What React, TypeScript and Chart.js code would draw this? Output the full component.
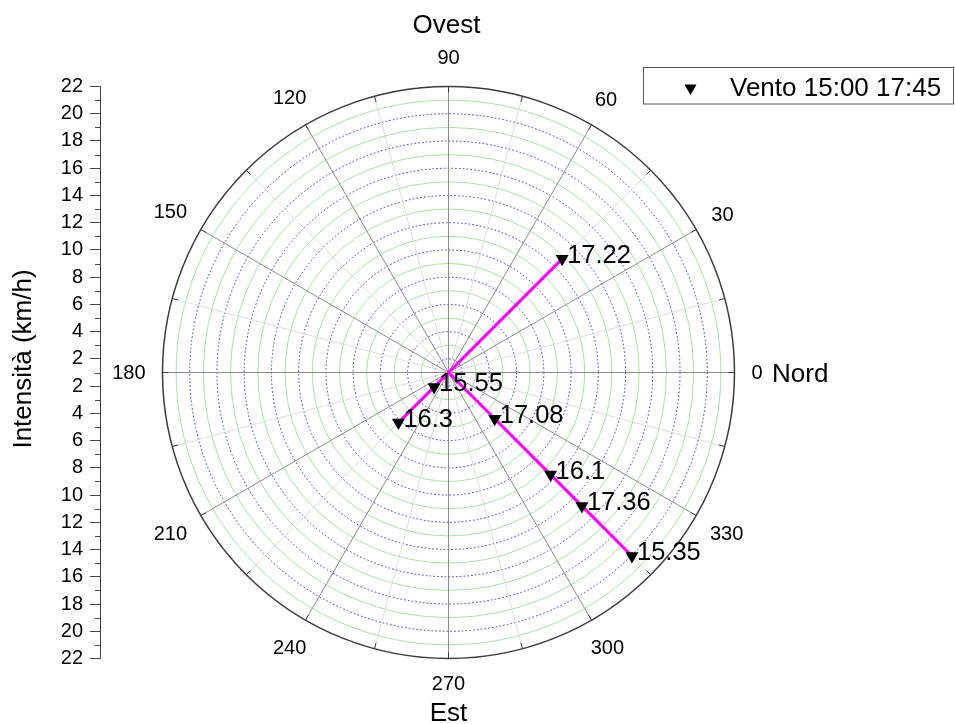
import React, { useEffect, useRef } from 'react';
import { Chart, registerables } from 'chart.js';

Chart.register(...registerables);

// ---- data ----
const pointLabels = ['17.22', '15.55', '16.3', '17.08', '16.1', '17.36', '15.35'];
const directions = [45, 225, 225, 315, 315, 315, 315]; // degrees
const speeds = [12.8, 2.5, 6.2, 5.8, 11.6, 14.85, 20.05]; // km/h
const linePaths = [[0, 2], [-1, 3, 4, 5, 6]]; // -1 = pole
const angleTicks = [0, 30, 60, 90, 120, 150, 180, 210, 240, 270, 300, 330];
const angleMinorStep = 15;
const R_MIN = 1;
const R_MAX = 22;
const seriesLabel = 'Vento 15:00 17:45';
const axisTitle = 'Intensità (km/h)';
const compass = { north: 'Nord', west: 'Ovest', east: 'Est' };

// ---- layout ----
const W = 955;
const H = 724;
const TOP = 86.5;
const BOTTOM = 658.5;
const LEFT = 100;
const CX = 448.5;
const SPAN = R_MAX - R_MIN;

const FONT = '"Liberation Sans", Arial, sans-serif';

function toXY(r: number, deg: number) {
  const d = r - R_MIN;
  const a = (deg * Math.PI) / 180;
  return { x: d * Math.cos(a), y: d * Math.sin(a) };
}

function drawDownTriangle(ctx: CanvasRenderingContext2D, x: number, y: number, r: number) {
  ctx.beginPath();
  ctx.moveTo(x, y + r);
  ctx.lineTo(x - r * Math.sin(Math.PI / 3), y - r / 2);
  ctx.lineTo(x + r * Math.sin(Math.PI / 3), y - r / 2);
  ctx.closePath();
  ctx.fill();
}

const polarPlugin = {
  id: 'polarDecor',
  afterLayout(chart: any) {
    // keep equal scaling on x and y, with the pole at CX
    const ca = chart.chartArea;
    const xs = chart.scales.x;
    const ppu = (ca.bottom - ca.top) / (2 * SPAN);
    xs.min = -(CX - ca.left) / ppu;
    xs.max = (ca.right - CX) / ppu;
    xs.configure();
  },
  beforeDatasetsDraw(chart: any) {
    const { ctx } = chart;
    const xs = chart.scales.x;
    const ys = chart.scales.y;
    const cx = xs.getPixelForValue(0);
    const cy = ys.getPixelForValue(0);
    const rad = (v: number) => cy - ys.getPixelForValue(v - R_MIN);
    const R = rad(R_MAX);
    ctx.save();
    // circles
    for (let v = R_MIN + 1; v < R_MAX; v++) {
      ctx.beginPath();
      ctx.arc(cx, cy, rad(v), 0, Math.PI * 2);
      if (v % 2 === 0) {
        ctx.strokeStyle = '#3434c8';
        ctx.setLineDash([1.6, 2.2]);
        ctx.lineWidth = 1;
      } else {
        ctx.strokeStyle = '#a8e0a8';
        ctx.setLineDash([]);
        ctx.lineWidth = 1;
      }
      ctx.stroke();
    }
    ctx.setLineDash([]);
    // radial lines
    for (let a = 0; a < 360; a += angleMinorStep) {
      const t = (a * Math.PI) / 180;
      const major = a % 30 === 0;
      ctx.beginPath();
      ctx.moveTo(cx, cy);
      ctx.lineTo(cx + R * Math.cos(t), cy - R * Math.sin(t));
      ctx.strokeStyle = major ? '#8c8c8c' : '#dcdcdc';
      ctx.lineWidth = 1;
      ctx.stroke();
    }
    // outer circle
    ctx.beginPath();
    ctx.arc(cx, cy, R, 0, Math.PI * 2);
    ctx.strokeStyle = '#3c3c3c';
    ctx.lineWidth = 1.5;
    ctx.stroke();
    // ticks on outer circle
    for (let a = 0; a < 360; a += angleMinorStep) {
      const t = (a * Math.PI) / 180;
      ctx.beginPath();
      ctx.moveTo(cx + R * Math.cos(t), cy - R * Math.sin(t));
      ctx.lineTo(cx + (R - 6) * Math.cos(t), cy - (R - 6) * Math.sin(t));
      ctx.strokeStyle = '#3c3c3c';
      ctx.lineWidth = 1;
      ctx.stroke();
    }
    ctx.restore();
  },
  afterDatasetsDraw(chart: any) {
    const { ctx } = chart;
    const meta = chart.getDatasetMeta(0);
    ctx.save();
    ctx.fillStyle = '#000';
    ctx.font = `25.5px ${FONT}`;
    ctx.textAlign = 'left';
    ctx.textBaseline = 'middle';
    meta.data.forEach((pt: any, i: number) => {
      ctx.fillText(pointLabels[i], pt.x + 5, pt.y - 3);
    });
    ctx.restore();
  },
  afterDraw(chart: any) {
    const { ctx } = chart;
    const xs = chart.scales.x;
    const ys = chart.scales.y;
    const cx = xs.getPixelForValue(0);
    const cy = ys.getPixelForValue(0);
    const R = cy - ys.getPixelForValue(R_MAX - R_MIN);
    ctx.save();
    ctx.fillStyle = '#000';
    // angle labels
    ctx.font = `20px ${FONT}`;
    ctx.textAlign = 'center';
    ctx.textBaseline = 'middle';
    angleTicks.forEach((a) => {
      const t = (a * Math.PI) / 180;
      const w = ctx.measureText(String(a)).width;
      const s = Math.sin(t);
      let d = R + 17 + Math.abs(Math.cos(t)) * w / 2 + Math.abs(s) * 7.5;
      if (s > 0.99) d += 5;
      ctx.fillText(String(a), cx + d * Math.cos(t), cy - d * s + 1);
    });
    // compass words
    ctx.font = `26px ${FONT}`;
    ctx.textAlign = 'center';
    ctx.fillText(compass.west, cx - 2, 26);
    ctx.fillText(compass.east, cx, 714);
    ctx.textAlign = 'left';
    ctx.fillText(compass.north, 772, cy + 2);
    // axis title
    ctx.save();
    ctx.translate(24, 359);
    ctx.rotate(-Math.PI / 2);
    ctx.textAlign = 'center';
    ctx.textBaseline = 'middle';
    ctx.fillText(axisTitle, 0, 0);
    ctx.restore();
    // minor ticks on left axis
    ctx.strokeStyle = '#444';
    ctx.lineWidth = 1;
    for (let v = -SPAN; v <= SPAN; v++) {
      const lab = Math.abs(v) + R_MIN;
      if (lab % 2 !== 0) {
        const y = Math.round(ys.getPixelForValue(v)) + 0.5;
        ctx.beginPath();
        ctx.moveTo(ys.right - 5, y);
        ctx.lineTo(ys.right, y);
        ctx.stroke();
      }
    }
    // legend
    ctx.strokeStyle = '#555';
    ctx.lineWidth = 1;
    ctx.fillStyle = '#fff';
    ctx.fillRect(643.5, 67.5, 310, 36.5);
    ctx.strokeRect(643.5, 67.5, 310, 36.5);
    ctx.fillStyle = '#000';
    drawDownTriangle(ctx, 690.5, 88, 7);
    ctx.font = `26px ${FONT}`;
    ctx.textAlign = 'left';
    ctx.textBaseline = 'alphabetic';
    ctx.fillText(seriesLabel, 730, 96);
    ctx.restore();
  },
};

export default function App() {
  const ref = useRef<HTMLCanvasElement | null>(null);
  useEffect(() => {
    if (!ref.current) return;
    const pts = speeds.map((s, i) => toXY(s, directions[i]));
    const pathData = linePaths.map((path) =>
      path.map((idx) => (idx < 0 ? { x: 0, y: 0 } : pts[idx]))
    );
    const yTicks: number[] = [];
    for (let v = -SPAN; v <= SPAN; v++) yTicks.push(v);
    const chart = new Chart(ref.current, {
      type: 'scatter',
      data: {
        datasets: [
          {
            label: seriesLabel,
            data: pts,
            pointStyle: 'triangle',
            rotation: 180,
            pointRadius: 7.5,
            pointHoverRadius: 7.5,
            backgroundColor: '#000',
            borderColor: '#000',
            borderWidth: 0,
            order: 0,
          } as any,
          ...pathData.map((d) => ({
            label: 'path',
            data: d,
            showLine: true,
            pointRadius: 0,
            borderColor: '#ff00ff',
            borderWidth: 3,
            order: 1,
          })),
        ],
      },
      options: {
        responsive: false,
        animation: false,
        devicePixelRatio: 1,
        layout: { padding: { top: TOP, bottom: H - BOTTOM, left: 0, right: 0 } },
        plugins: { legend: { display: false }, tooltip: { enabled: false } },
        events: [],
        scales: {
          x: { type: 'linear', min: -30, max: 30, display: false },
          y: {
            type: 'linear',
            position: 'left',
            min: -SPAN,
            max: SPAN,
            afterBuildTicks: (scale: any) => {
              scale.ticks = yTicks.map((v) => ({ value: v }));
            },
            afterFit: (scale: any) => {
              scale.width = LEFT;
            },
            ticks: {
              autoSkip: false,
              padding: 7,
              color: '#000',
              font: { family: FONT, size: 20 },
              callback: (value: any) => {
                const lab = Math.abs(Number(value)) + R_MIN;
                return lab % 2 === 0 ? String(lab) : '';
              },
            },
            grid: {
              drawOnChartArea: false,
              drawTicks: true,
              tickLength: 10,
              tickColor: (ctx: any) => {
                const v = ctx.tick ? ctx.tick.value : 0;
                return (Math.abs(v) + R_MIN) % 2 === 0 ? '#444' : 'rgba(0,0,0,0)';
              },
            },
            border: { display: true, color: '#444', width: 1 },
          },
        },
      } as any,
      plugins: [polarPlugin],
    });
    return () => chart.destroy();
  }, []);
  return (
    <div style={{ position: 'absolute', left: 0, top: 0, width: W, height: H, background: '#fff' }}>
      <canvas ref={ref} width={W} height={H} style={{ width: W, height: H, display: 'block' }} />
    </div>
  );
}
